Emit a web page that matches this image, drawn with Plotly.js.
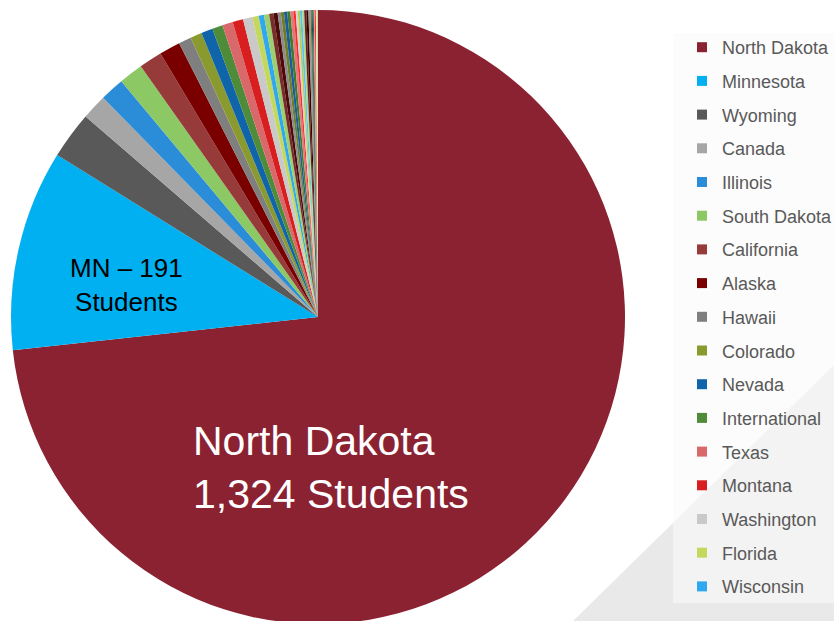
<!DOCTYPE html>
<html>
<head>
<meta charset="utf-8">
<script src="https://cdn.plot.ly/plotly-3.0.1.min.js"></script>
<style>
  html, body { margin: 0; padding: 0; overflow: hidden; background: #ffffff; }
  #chart { width: 834px; height: 640px; }
</style>
</head>
<body>
<div id="chart"></div>
<script>
// Student origin counts
const labels = [
  "North Dakota", "Minnesota", "Wyoming", "Canada", "Illinois", "South Dakota",
  "California", "Alaska", "Hawaii", "Colorado", "Nevada", "International",
  "Texas", "Montana", "Washington", "Florida", "Wisconsin",
  "Other 1", "Other 2", "Other 3", "Other 4", "Other 5", "Other 6", "Other 7",
  "Other 8", "Other 9", "Other 10", "Other 11", "Other 12", "Other 13", "Other 14",
  "Other 15", "Other 16", "Other 17", "Other 18", "Other 19", "Other 20", "Other 21",
  "Other 22", "Other 23"
];
const values = [
  1324, 191, 45, 24, 23, 23,
  22, 20, 12, 11, 11, 10,
  10, 10, 9, 6, 5,
  5, 4, 4, 3, 3, 3, 3,
  3, 2, 2, 2, 2, 2, 2,
  2, 2, 1, 1, 1, 1, 1,
  1, 1
];
const colors = [
  "#8B2232", "#00B0F0", "#595959", "#A6A6A6", "#2B8CD8", "#8CC863",
  "#963A3A", "#7A0000", "#7F7F7F", "#8A9A2E", "#0F64AA", "#4E8C3A",
  "#D9686B", "#D81E1E", "#C9C9C9", "#C5D85E", "#2FA8F0",
  "#9BD06E", "#7A2B2B", "#4D0A0A", "#8C8C8C", "#6F7E24", "#1A5C9E", "#3F7A2E",
  "#E07A7A", "#FF2A2A", "#D4D4D4", "#B7CF4A", "#5EC0F5", "#A9D98A", "#6A1E1E",
  "#3C0000", "#999999", "#5F6E1A", "#124F88", "#336A24", "#EE9090", "#F23030",
  "#E0E0E0", "#D0E27A"
];
// The original legend lists only the first 17 entries
const legendCount = 17;

const W = 834, H = 640, MT = 10, MB = 16;
const PH = H - MT - MB;
const px = x => x / W;
const py = y => (H - MB - y) / PH;

const pie = {
  type: 'pie',
  labels: labels,
  values: values,
  marker: { colors: colors, line: { width: 0 } },
  sort: false,
  direction: 'clockwise',
  rotation: 0,
  textinfo: 'none',
  hoverinfo: 'label+value',
  showlegend: false,
  domain: { x: [px(11), px(625)], y: [0, 1] }
};

// legend entries (legend-only markers built from the same arrays)
const legendTraces = labels.slice(0, legendCount).map((name, i) => ({
  type: 'scatter',
  mode: 'markers',
  x: [null], y: [null],
  name: name,
  legendgroup: name,
  marker: { symbol: 'square', size: 10, color: colors[i] },
  hoverinfo: 'skip',
  showlegend: true
}));

const layout = {
  width: W, height: H,
  margin: { l: 0, r: 0, t: MT, b: MB, autoexpand: false },
  paper_bgcolor: '#ffffff',
  plot_bgcolor: 'rgba(0,0,0,0)',
  xaxis: { visible: false, domain: [0.9, 1] },
  yaxis: { visible: false, domain: [0.9, 1] },
  showlegend: true,
  legend: {
    x: px(682), xanchor: 'left',
    y: py(29), yanchor: 'top',
    bgcolor: 'rgba(0,0,0,0)',
    borderwidth: 0,
    traceorder: 'grouped',
    tracegroupgap: 7.3,
    font: { family: 'Liberation Sans, Arial, sans-serif', size: 18, color: '#595959' }
  },
  shapes: [
    { type: 'path', xref: 'paper', yref: 'paper', layer: 'below',
      path: 'M ' + px(553.6) + ' ' + py(640) + ' L ' + px(834) + ' ' + py(365) + ' L ' + px(834) + ' ' + py(640) + ' Z',
      fillcolor: '#E9E9E9', line: { width: 0 } },
    { type: 'rect', xref: 'paper', yref: 'paper', layer: 'below',
      x0: px(673), x1: px(834), y0: py(603), y1: py(33),
      fillcolor: 'rgba(250,250,250,0.6)', line: { width: 0 } }
  ],
  annotations: [
    { xref: 'paper', yref: 'paper', x: px(191), y: py(467), xanchor: 'left', yanchor: 'middle',
      text: labels[0] + '<br>' + values[0].toLocaleString('en-US') + ' Students',
      showarrow: false, align: 'left',
      font: { family: 'Liberation Sans, Arial, sans-serif', size: 41, color: '#ffffff' } },
    { xref: 'paper', yref: 'paper', x: px(126), y: py(285), xanchor: 'center', yanchor: 'middle',
      text: 'MN \u2013 ' + values[1] + '<br>Students',
      showarrow: false, align: 'center',
      font: { family: 'Liberation Sans, Arial, sans-serif', size: 26, color: '#000000' } }
  ]
};

Plotly.newPlot('chart', [pie].concat(legendTraces), layout, { displayModeBar: false, staticPlot: true });
</script>
</body>
</html>
